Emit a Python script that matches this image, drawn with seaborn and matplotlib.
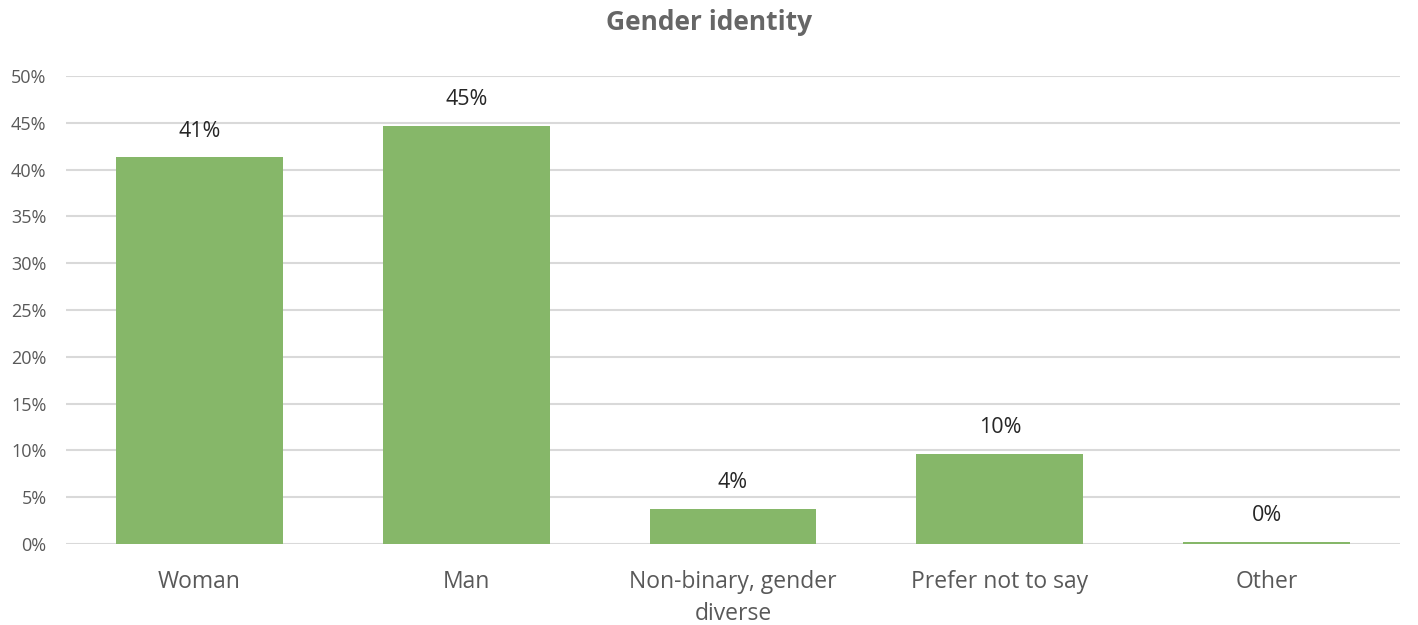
import matplotlib
matplotlib.use("Agg")
import matplotlib.pyplot as plt
import seaborn as sns
import pandas as pd

categories = ["Woman", "Man", "Non-binary, gender\ndiverse", "Prefer not to say", "Other"]
values = [41.3, 44.7, 3.7, 9.6, 0.25]
labels = ["41%", "45%", "4%", "10%", "0%"]
yticks = [0, 5, 10, 15, 20, 25, 30, 35, 40, 45, 50]

sns.set_theme(style="white")
plt.rcParams['font.family'] = ['Open Sans', 'DejaVu Sans']

df = pd.DataFrame({"cat": categories, "val": values})

fig = plt.figure(figsize=(14.18, 6.25), dpi=100)
ax = fig.add_axes([66/1418, 1-544/625, (1400-66)/1418, (544-76)/625])

sns.barplot(data=df, x="cat", y="val", color="#86B769", saturation=1,
            width=0.625, ax=ax, zorder=3, linewidth=0, edgecolor="none")

ax.set_xlim(-0.5, len(categories)-0.5)
ax.set_ylim(0, 50)
ax.set_yticks(yticks)
ax.set_yticklabels([f"{t}%" for t in yticks])
ax.yaxis.grid(True, color="#d9d9d9", linewidth=1.5, zorder=0)
ax.set_axisbelow(True)
for s in ax.spines.values():
    s.set_visible(False)
ax.tick_params(axis="y", length=0, pad=14, labelsize=13, labelcolor="#595959")
ax.tick_params(axis="x", length=0, pad=19, labelsize=16.5, labelcolor="#595959")
for t in ax.get_xticklabels():
    t.set_linespacing(1.45)
    t.set_multialignment("center")
ax.set_xlabel("")
ax.set_ylabel("")

for i, (v, l) in enumerate(zip(values, labels)):
    ax.annotate(l, (i, v), xytext=(0, 19), textcoords="offset points",
                ha="center", va="center", fontsize=15.5, color="#262626")

fig.text(0.5, 1-22/625, "Gender identity", ha="center", va="center",
         fontsize=19, fontweight="bold", color="#666666")

fig.savefig("out.png", dpi=100)
